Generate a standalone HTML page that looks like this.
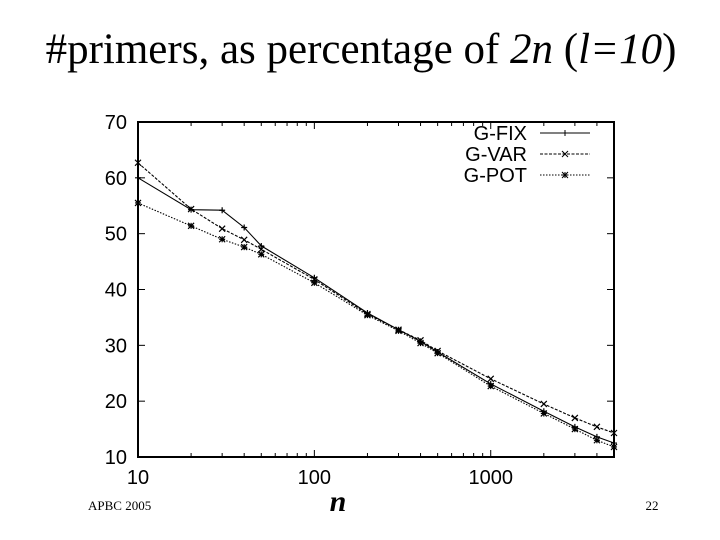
<!DOCTYPE html>
<html><head><meta charset="utf-8"><style>
body{margin:0;background:#fff;}
svg{display:block;}
</style></head><body>
<svg id="chart" width="720" height="540" xmlns="http://www.w3.org/2000/svg">
<text x="361" y="63" text-anchor="middle" font-family="Liberation Serif, serif" font-size="43">#primers, as percentage of <tspan font-style="italic">2n</tspan> (<tspan font-style="italic">l=10</tspan>)</text>
<text x="88" y="510" font-family="Liberation Serif, serif" font-size="13">APBC 2005</text>
<text x="338" y="511" text-anchor="middle" font-family="Liberation Serif, serif" font-size="30" font-style="italic" font-weight="bold">n</text>
<text x="652" y="510" text-anchor="middle" font-family="Liberation Serif, serif" font-size="13">22</text>
<g id="plot"></g>
</svg>
<script>
const xs = [10,20,30,40,50,100,200,300,400,500,1000,2000,3000,4000,5000];
const gFix = [60,54.3,54.2,51.1,47.8,42.1,35.8,32.8,30.7,28.8,23.1,18.2,15.4,13.6,12.5];
const gVar = [62.7,54.4,50.9,48.9,47.2,41.8,35.6,32.8,30.9,29.0,24.0,19.5,17.0,15.4,14.3];
const gPot = [55.5,51.4,49.0,47.6,46.3,41.2,35.4,32.6,30.4,28.6,22.7,17.8,15.0,13.0,11.8];
const yTicks = [10,20,30,40,50,60,70];
const xTicks = [10,100,1000];
const L=138,R=614,T=122,B=457;
const xmin=10,xmax=5000,ymin=10,ymax=70;
const NS="http://www.w3.org/2000/svg";
const g=document.getElementById('plot');
function X(v){return L+(Math.log10(v)-Math.log10(xmin))/(Math.log10(xmax)-Math.log10(xmin))*(R-L);}
function Y(v){return B-(v-ymin)/(ymax-ymin)*(B-T);}
function el(t,a){const e=document.createElementNS(NS,t);for(const k in a)e.setAttribute(k,a[k]);g.appendChild(e);return e;}
const frame=el('rect',{x:L,y:T,width:R-L,height:B-T,fill:'none',stroke:'#000','stroke-width':2});


yTicks.forEach(v=>{
  const t=el('line',{x1:L,x2:L+7,y1:Y(v),y2:Y(v),stroke:'#000'});
  
  
  const t2=el('line',{x1:R-7,x2:R,y1:Y(v),y2:Y(v),stroke:'#000'});
  
  
  const l=el('text',{x:L-11,y:Y(v)+7,'text-anchor':'end','font-family':'Liberation Sans, sans-serif','font-size':20});
  l.textContent=v;
  
  
});
for(let d=10;d<=1000;d*=10){for(let m=1;m<10;m++){const v=d*m;if(v>xmax)break;
  const len=m===1?7:4;
  const t=el('line',{x1:X(v),x2:X(v),y1:B,y2:B-len,stroke:'#000'});
  
  
  const t2=el('line',{x1:X(v),x2:X(v),y1:T,y2:T+len,stroke:'#000'});
  
  
}}
xTicks.forEach(v=>{
  const l=el('text',{x:X(v),y:B+27,'text-anchor':'middle','font-family':'Liberation Sans, sans-serif','font-size':20});
  l.textContent=v;
  
  
});
function marker(type,x,y){
  if(type==='plus'){return `M${x-3},${y}h6M${x},${y-3}v6`;}
  if(type==='x'){return `M${x-3},${y-3}l6,6M${x-3},${y+3}l6,-6`;}
  return `M${x-3},${y}h6M${x},${y-3}v6M${x-3},${y-3}l6,6M${x-3},${y+3}l6,-6`;
}
const series=[
  {name:'G-FIX',vals:gFix,dash:'',mk:'plus',ly:133},
  {name:'G-VAR',vals:gVar,dash:'3,1.5',mk:'x',ly:154},
  {name:'G-POT',vals:gPot,dash:'1.5,1.5',mk:'star',ly:175}
];
series.forEach(s=>{
  const d=s.vals.map((v,i)=>(i?'L':'M')+X(xs[i]).toFixed(1)+','+Y(v).toFixed(1)).join('');
  const p=el('path',{d:d,fill:'none',stroke:'#000','stroke-width':1.1,'stroke-dasharray':s.dash});
  
  
  let md='';s.vals.forEach((v,i)=>{md+=marker(s.mk,X(xs[i]),Y(v));});
  const m=el('path',{d:md,fill:'none',stroke:'#000','stroke-width':1.2});
  
  
  const t=el('text',{x:527,y:s.ly+7,'text-anchor':'end','font-family':'Liberation Sans, sans-serif','font-size':20});
  t.textContent=s.name;
  
  
  const ln=el('line',{x1:540,x2:590,y1:s.ly,y2:s.ly,stroke:'#000','stroke-dasharray':s.dash});
  
  
  const lm=el('path',{d:marker(s.mk,565,s.ly),fill:'none',stroke:'#000'});
  
  
});
</script>
</body></html>
